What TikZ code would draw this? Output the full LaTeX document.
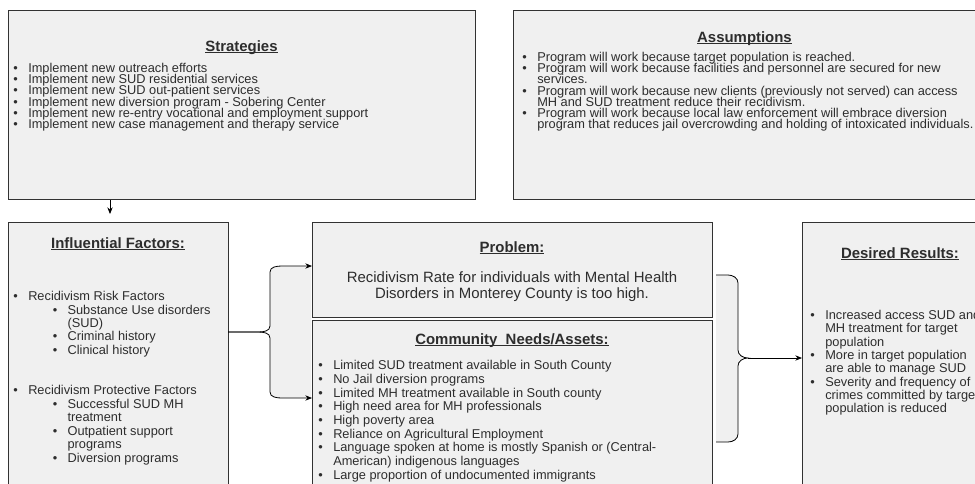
\documentclass[tikz,border=0pt]{standalone}
\usepackage{fontspec}
\setmainfont{Liberation Sans}
\usetikzlibrary{arrows.meta,positioning}
\definecolor{BoxFill}{RGB}{240,240,240}
\definecolor{BoxLine}{RGB}{50,50,50}
\definecolor{BoxText}{RGB}{45,45,45}
\newcommand\bl{\makebox[11.25pt][l]{\textbullet}}
\newcommand\blsub{\hspace*{29.75pt}\makebox[11pt][l]{\textbullet}}
\newcommand\hdline[1]{\setbox0\hbox{#1}\rlap{\rule[-1.5pt]{\wd0}{0.6pt}}\box0}
\newcommand\tightlines{\lineskiplimit=-20pt\relax\lineskip=0pt\relax}

\begin{document}
\begin{tikzpicture}[x=0.75pt,y=-0.75pt,>={Stealth[length=5pt,width=4pt]}]
        \tikzset{box/.style={draw=BoxLine,fill=BoxFill,line width=0.6pt,inner sep=0pt,anchor=north west},
          head/.style={anchor=base,inner sep=0pt,text=BoxText,font=\fontsize{11.2}{13}\selectfont\bfseries},
          items/.style={anchor=north west,inner sep=0pt,align=left,text=BoxText,execute at begin node=\tightlines},
          conn/.style={draw=black,line width=0.6pt}}
        \useasboundingbox (0,0) rectangle (975,483);
        \clip (0,0) rectangle (975,483);
        % boxes
        \node[box,minimum width=350.25pt,minimum height=141.75pt] (strat) at (8,10) {};
        \node[box,minimum width=360pt,minimum height=141.75pt] (assum) at (513,10) {};
        \node[box,minimum width=165pt,minimum height=202.5pt] (infl) at (8,222) {};
        \node[box,minimum width=300pt,minimum height=71.25pt] (prob) at (312,222) {};
        \node[box,minimum width=300pt,minimum height=123.75pt] (comm) at (312,320) {};
        \node[box,minimum width=150pt,minimum height=202.5pt] (res) at (802,222) {};
        % headings
        \node[head] (strathead) at (241.5,51) {\hdline{Strategies}};
        \node[head] (assumhead) at (744.5,42) {\hdline{Assumptions}};
        \node[head] (inflhead) at (118,248) {\hdline{Influential Factors:}};
        \node[head] (probhead) at (512,252) {\hdline{Problem:}};
        \node[head] (commhead) at (512,344) {\hdline{Community\ \ Needs/Assets:}};
        \node[head] (reshead) at (900,258) {\hdline{Desired Results:}};
        % texts
        \node[items,font=\fontsize{9.6}{8.4}\selectfont] (stratlist) at (13,63) {%
          \bl Implement new outreach efforts\\
          \bl Implement new SUD residential services\\
          \bl Implement new SUD out-patient services\\
          \bl Implement new diversion program - Sobering Center\\
          \bl Implement new re-entry vocational and employment support\\
          \bl Implement new case management and therapy service};
        \node[items,font=\fontsize{9.6}{8.4}\selectfont] (assumlist) at (522,52) {%
          \bl Program will work because target population is reached.\\
          \bl Program will work because facilities and personnel are secured for new\\
          \hspace*{11.25pt}services.\\
          \bl Program will work because new clients (previously not served) can access\\
          \hspace*{11.25pt}MH and SUD treatment reduce their recidivism.\\
          \bl Program will work because local law enforcement will embrace diversion\\
          \hspace*{11.25pt}program that reduces jail overcrowding and holding of intoxicated individuals.};
        \node[items,font=\fontsize{9.6}{10.1}\selectfont] (infllist) at (13,291) {%
          \bl Recidivism Risk Factors\\
          \blsub Substance Use disorders\\
          \hspace*{40.75pt}(SUD)\\
          \blsub Criminal history\\
          \blsub Clinical history\\[20.2pt]
          \bl Recidivism Protective Factors\\
          \blsub Successful SUD MH\\
          \hspace*{40.75pt}treatment\\
          \blsub Outpatient support\\
          \hspace*{40.75pt}programs\\
          \blsub Diversion programs};
        \node[anchor=north,inner sep=0pt,align=center,text=BoxText,font=\fontsize{11.2}{12.6}\selectfont] (probtext) at (512,271) {%
          Recidivism Rate for individuals with Mental Health\\
          Disorders in Monterey County is too high.};
        \node[items,font=\fontsize{9.6}{10.3}\selectfont] (commlist) at (318,360) {%
          \bl Limited SUD treatment available in South County\\
          \bl No Jail diversion programs\\
          \bl Limited MH treatment available in South county\\
          \bl High need area for MH professionals\\
          \bl High poverty area\\
          \bl Reliance on Agricultural Employment\\
          \bl Language spoken at home is mostly Spanish or (Central-\\
          \hspace*{11.25pt}American) indigenous languages\\
          \bl Large proportion of undocumented immigrants};
        \node[items,font=\fontsize{9.6}{10}\selectfont] (reslist) at (810,310) {%
          \bl Increased access SUD and\\
          \hspace*{11.25pt}MH treatment for target\\
          \hspace*{11.25pt}population\\
          \bl More in target population\\
          \hspace*{11.25pt}are able to manage SUD\\
          \bl Severity and frequency of\\
          \hspace*{11.25pt}crimes committed by target\\
          \hspace*{11.25pt}population is reduced};
        % connectors
        \coordinate (lbmid) at (228,332);
        \coordinate (rbtop) at (716,275);
        \coordinate (rbbot) at (716,442);
        \draw[conn,->,shorten >=6pt] (strat.south -| 110,0) -- (infl.north -| 110,0);
        \fill[BoxFill] (270,272) to[out=90,in=180] (282,266) -- (311,266) -- (311,398) -- (282,398) to[out=180,in=-90] (270,392) -- cycle;
        \draw[conn,->] (lbmid) -- (258,332) to[out=0,in=-90] (270,326) -- (270,272) to[out=90,in=180] (282,266) -- (prob.west |- 0,266);
        \draw[conn,->] (lbmid) -- (258,332) to[out=0,in=90] (270,338) -- (270,392) to[out=-90,in=180] (282,398) -- (comm.west |- 0,398);
        \fill[BoxFill] (rbtop) -- (728,275) to[out=0,in=90] (738,283) -- (738,350) to[out=-90,in=180] (748,358) to[out=180,in=90] (738,366) -- (738,434) to[out=-90,in=0] (728,442) -- (rbbot) -- cycle;
        \draw[conn] (rbtop) -- (728,275) to[out=0,in=90] (738,283) -- (738,350) to[out=-90,in=180] (748,358) to[out=180,in=90] (738,366) -- (738,434) to[out=-90,in=0] (728,442) -- (rbbot);
        \draw[conn,->] (748,358) -- (res.west |- 0,358);
      \end{tikzpicture}
\end{document}
